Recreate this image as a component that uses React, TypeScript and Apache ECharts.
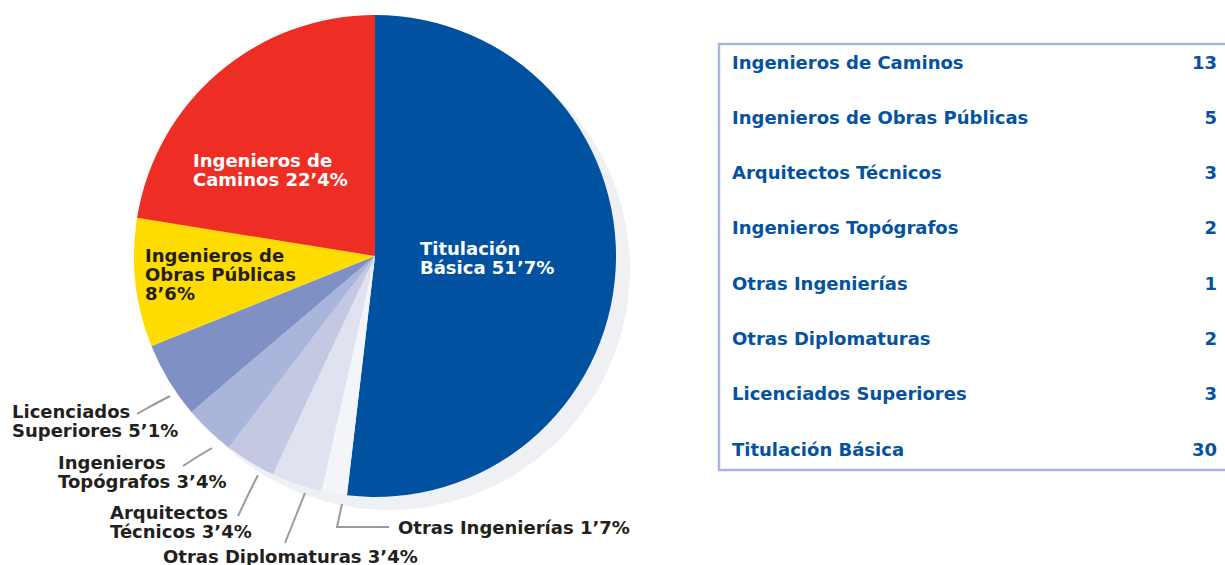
import React, { useEffect, useRef } from "react";
import * as echarts from "echarts";

const sliceNames = [
  "Titulación Básica",
  "Otras Ingenierías",
  "Otras Diplomaturas",
  "Arquitectos Técnicos",
  "Ingenieros Topógrafos",
  "Licenciados Superiores",
  "Ingenieros de Obras Públicas",
  "Ingenieros de Caminos",
];
const slicePct = [51.7, 1.7, 3.4, 3.4, 3.4, 5.1, 8.6, 22.4];
const sliceLabels = [
  "Titulación\nBásica 51’7%",
  "Otras Ingenierías 1’7%",
  "Otras Diplomaturas 3’4%",
  "Arquitectos\nTécnicos 3’4%",
  "Ingenieros\nTopógrafos 3’4%",
  "Licenciados\nSuperiores 5’1%",
  "Ingenieros de\nObras Públicas\n8’6%",
  "Ingenieros de\nCaminos 22’4%",
];
const sliceColors = [
  "#0052a0",
  "#f3f5fa",
  "#dee3ef",
  "#c4c8e3",
  "#a9b5da",
  "#7f90c4",
  "#ffdc00",
  "#ee2e24",
];

const tableNames = [
  "Ingenieros de Caminos",
  "Ingenieros de Obras Públicas",
  "Arquitectos Técnicos",
  "Ingenieros Topógrafos",
  "Otras Ingenierías",
  "Otras Diplomaturas",
  "Licenciados Superiores",
  "Titulación Básica",
];
const tableCounts = [13, 5, 3, 2, 1, 2, 3, 30];

// label layout (positions only)
const insideIdx = [0, 6, 7];
const labelPos: [number, number][] = [
  [420, 257.5],
  [398, 527],
  [163, 556],
  [110, 522],
  [58, 472],
  [12, 421],
  [145, 274.5],
  [193, 169.5],
];
const leaderLines: (number[][] | null)[] = [
  null,
  [[342, 504], [337, 527], [389, 527]],
  [[305, 493], [295, 518], [285, 543]],
  [[258, 475], [248, 495], [238, 516]],
  [[212, 448], [197, 457], [183, 466]],
  [[170, 396], [153, 405], [137, 414]],
  null,
  null,
];

const FONT = "DejaVu Sans";

export default function App() {
  const ref = useRef<HTMLDivElement>(null);
  useEffect(() => {
    document.body.style.margin = "0";
    const chart = echarts.init(ref.current!, null, { renderer: "svg" });
    const rowY0 = 62;
    const rowStep = 55.3;
    const graphics: any[] = [
      {
        type: "rect",
        shape: { x: 719, y: 44, width: 530, height: 426 },
        style: { fill: "#ffffff", stroke: "#a9b5dc", lineWidth: 2.5 },
        z: 1,
      },
    ];
    tableNames.forEach((n, i) => {
      graphics.push({
        type: "text",
        x: 732,
        y: rowY0 + i * rowStep,
        style: {
          text: n,
          fill: "#0552a0",
          font: `bold 18px "${FONT}"`,
          textAlign: "left",
          textVerticalAlign: "middle",
        },
        z: 2,
      });
      graphics.push({
        type: "text",
        x: 1217,
        y: rowY0 + i * rowStep,
        style: {
          text: String(tableCounts[i]),
          fill: "#0552a0",
          font: `bold 18px "${FONT}"`,
          textAlign: "right",
          textVerticalAlign: "middle",
        },
        z: 2,
      });
    });

    chart.setOption({
      animation: false,
      graphic: graphics,
      series: [
        {
          type: "pie",
          silent: true,
          center: [389, 269],
          radius: 241,
          startAngle: 90,
          label: { show: false },
          labelLine: { show: false },
          data: [{ value: 1, itemStyle: { color: "#eff0f3" } }],
          z: 1,
        },
        {
          type: "pie",
          center: [375, 256],
          radius: 241,
          startAngle: 90,
          clockwise: true,
          avoidLabelOverlap: false,
          z: 2,
          data: sliceNames.map((n, i) => {
            const inside = insideIdx.includes(i);
            return {
              name: n,
              value: slicePct[i],
              itemStyle: { color: sliceColors[i] },
              label: {
                show: true,
                position: inside ? "inside" : "outside",
                formatter: sliceLabels[i],
                color: inside ? (i === 6 ? "#231f20" : "#ffffff") : "#231f20",
                fontFamily: FONT,
                fontWeight: "bold",
                fontSize: 18,
                lineHeight: 19,
                align: "left",
              },
              labelLine: {
                show: !inside,
                lineStyle: { color: "#9a9a9a", width: 2 },
              },
            };
          }),
          labelLayout: (params: any) => {
            const i = params.dataIndex;
            const p = labelPos[i];
            const res: any = {
              x: p[0],
              y: p[1],
              align: "left",
              verticalAlign: "middle",
            };
            if (leaderLines[i]) res.labelLinePoints = leaderLines[i];
            return res;
          },
        },
      ],
    });
    return () => chart.dispose();
  }, []);
  return <div ref={ref} style={{ width: 1225, height: 565 }} />;
}
